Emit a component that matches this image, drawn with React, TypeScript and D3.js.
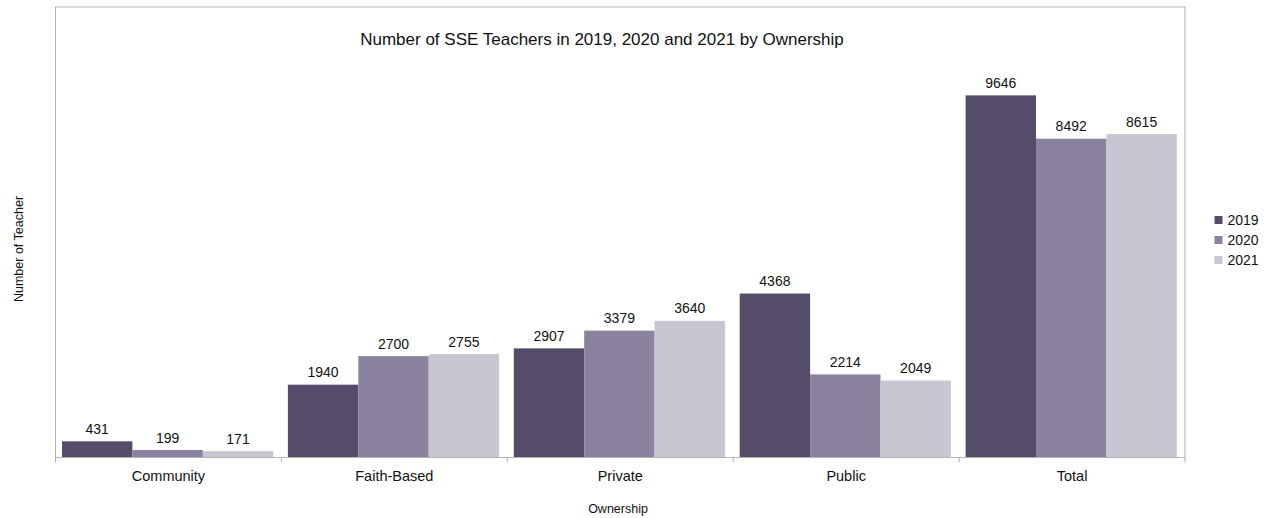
import React from 'react';
import * as d3 from 'd3';

const categories = ['Community', 'Faith-Based', 'Private', 'Public', 'Total'];
const years = ['2019', '2020', '2021'];
const values2019 = [431, 1940, 2907, 4368, 9646];
const values2020 = [199, 2700, 3379, 2214, 8492];
const values2021 = [171, 2755, 3640, 2049, 8615];
const colors = ['#544c68', '#8a829f', '#c9c6d3'];

const W = 1270;
const H = 518;
const PLOT = { left: 55.5, right: 1185, top: 7, bottom: 457.5 };
const FONT = '"Liberation Sans", Arial, sans-serif';

const App: React.FC = () => {
  const series = [values2019, values2020, values2021];

  const x = d3
    .scaleBand<string>()
    .domain(categories)
    .range([PLOT.left, PLOT.right])
    .paddingInner(0)
    .paddingOuter(0);

  // bars inside each category, small gap on both sides
  const inner = d3
    .scaleBand<string>()
    .domain(years)
    .range([6.5, x.bandwidth() - 8.2]);

  const y = d3.scaleLinear().domain([0, 12000]).range([PLOT.bottom, PLOT.top]);

  const ticks = [...categories.map((c) => x(c)!), PLOT.right];

  return (
    <svg
      width={W}
      height={H}
      style={{ position: 'absolute', left: 0, top: 0, background: '#fff' }}
      fontFamily={FONT}
    >
      {/* plot frame */}
      <rect
        x={PLOT.left}
        y={PLOT.top}
        width={PLOT.right - PLOT.left}
        height={PLOT.bottom - PLOT.top}
        fill="none"
        stroke="#b3b3b3"
        strokeWidth={1}
      />

      <text x={602} y={45} textAnchor="middle" fontSize={17} fill="#111">
        Number of SSE Teachers in 2019, 2020 and 2021 by Ownership
      </text>

      {categories.map((c, ci) => (
        <g key={c} transform={`translate(${x(c)},0)`}>
          {years.map((yr, si) => {
            const v = series[si][ci];
            const bx = inner(yr)!;
            const bw = inner.bandwidth();
            return (
              <g key={yr}>
                <rect
                  x={bx}
                  y={y(v)}
                  width={bw}
                  height={PLOT.bottom - y(v)}
                  fill={colors[si]}
                />
                <text
                  x={bx + bw / 2}
                  y={y(v) - 7.5}
                  textAnchor="middle"
                  fontSize={14}
                  fill="#111"
                >
                  {v}
                </text>
              </g>
            );
          })}
          <text
            x={x.bandwidth() / 2}
            y={481}
            textAnchor="middle"
            fontSize={14.5}
            fill="#111"
          >
            {c}
          </text>
        </g>
      ))}

      {/* x axis */}
      <line
        x1={PLOT.left}
        x2={PLOT.right}
        y1={PLOT.bottom}
        y2={PLOT.bottom}
        stroke="#b3b3b3"
      />
      {ticks.map((t, i) => (
        <line
          key={i}
          x1={t}
          x2={t}
          y1={PLOT.bottom}
          y2={PLOT.bottom + 5}
          stroke="#b3b3b3"
        />
      ))}

      <text x={618} y={513} textAnchor="middle" fontSize={12.5} fill="#111">
        Ownership
      </text>
      <text
        transform={`translate(23,249) rotate(-90)`}
        textAnchor="middle"
        fontSize={12.5}
        fill="#111"
      >
        Number of Teacher
      </text>

      {/* legend */}
      {years.map((yr, i) => (
        <g key={yr} transform={`translate(1214.5,${220 + i * 20})`}>
          <rect x={0} y={-4} width={8} height={8} fill={colors[i]} />
          <text x={13} y={5} fontSize={14} fill="#111">
            {yr}
          </text>
        </g>
      ))}
    </svg>
  );
};

export default App;
